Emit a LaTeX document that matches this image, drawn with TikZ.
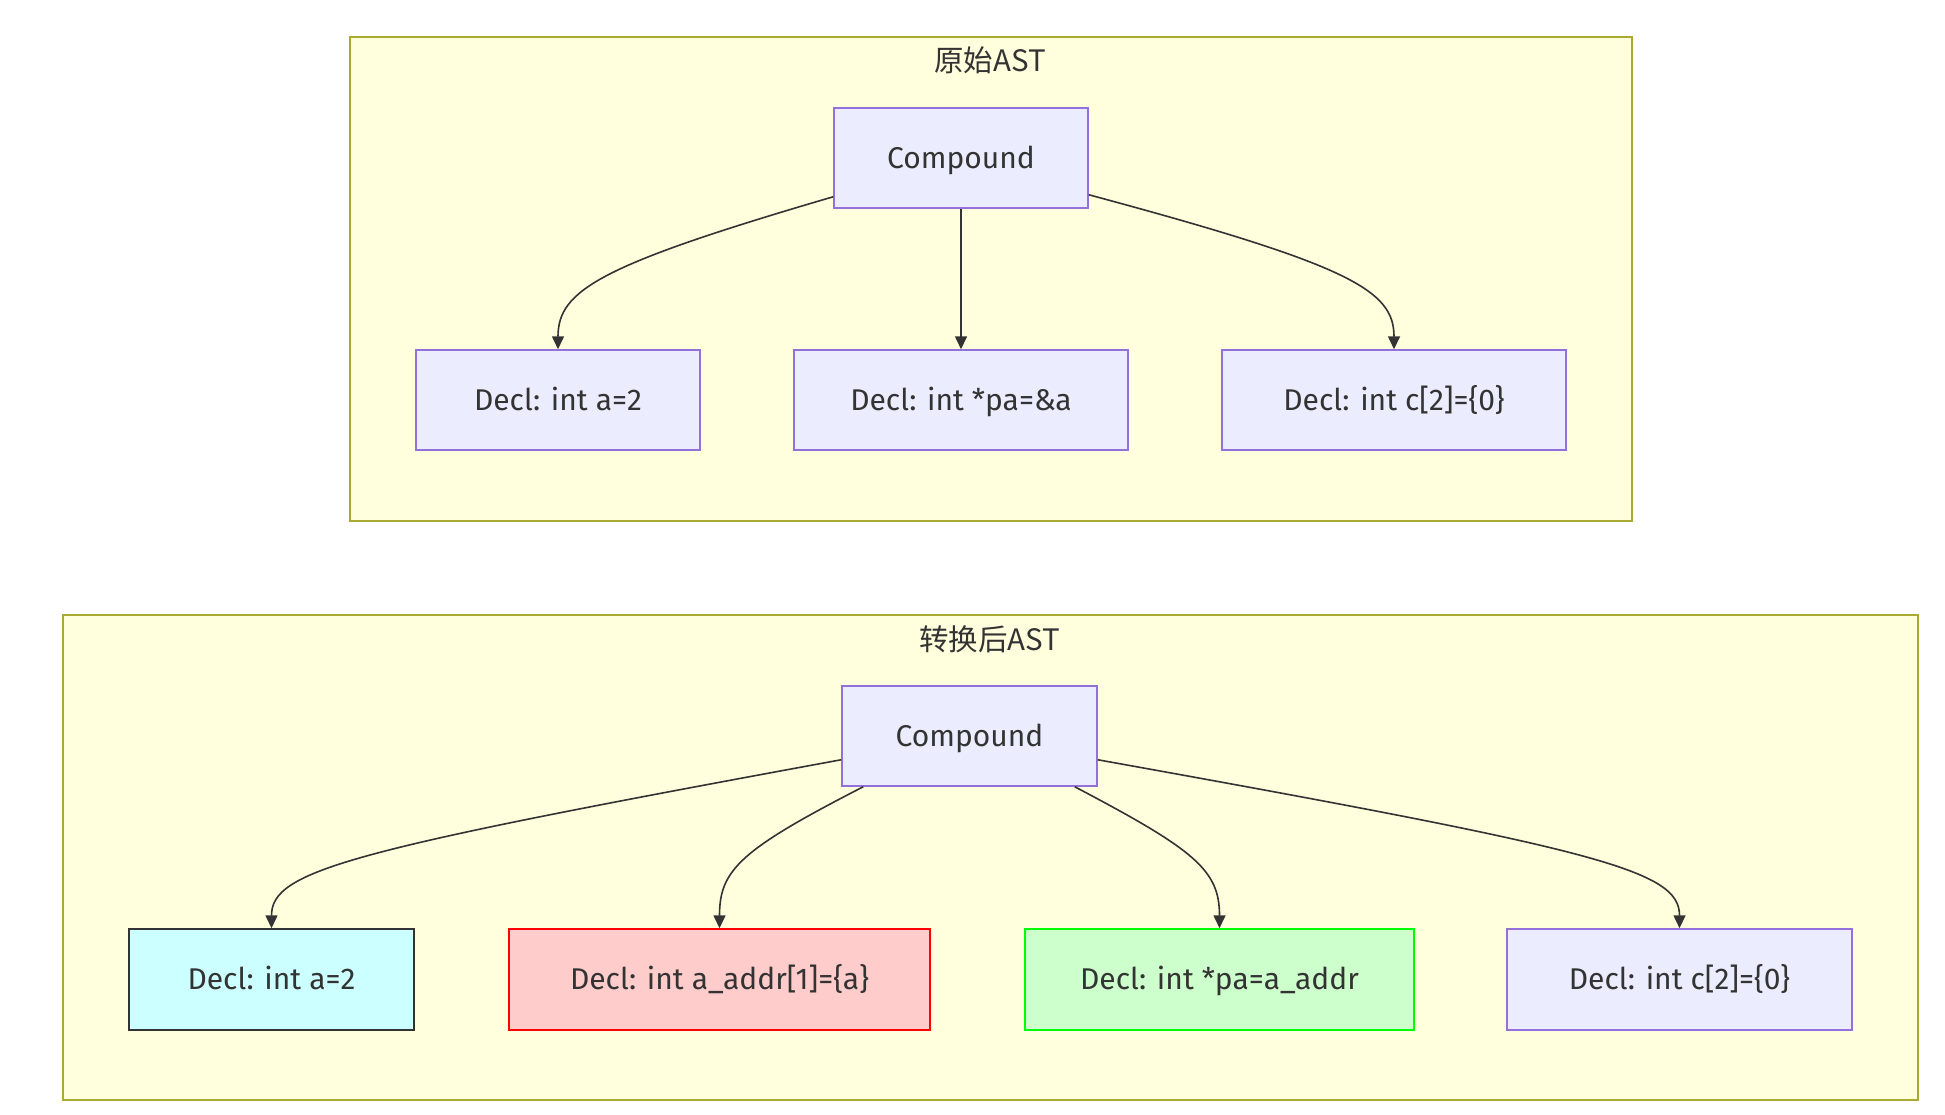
\documentclass[tikz,border=0pt]{standalone}
\usepackage{fontspec}
\setmainfont{Fira Sans}
\newfontfamily\cjk{Noto Sans CJK SC}
\usetikzlibrary{arrows.meta}
\definecolor{clfill}{HTML}{FFFFDE}
\definecolor{clline}{HTML}{AAAA33}
\definecolor{ndfill}{HTML}{ECECFF}
\definecolor{ndline}{HTML}{9370DB}
\definecolor{txt}{HTML}{333333}
\definecolor{cyfill}{HTML}{CCFFFF}
\definecolor{rdfill}{HTML}{FFCCCC}
\definecolor{gnfill}{HTML}{CCFFCC}
\tikzset{
  cluster/.style={draw=clline, fill=clfill, line width=1.5pt},
  ctitle/.style={text=txt, font=\cjk\fontsize{29.5}{35}\selectfont, inner sep=0pt},
  box/.style={draw=ndline, fill=ndfill, line width=1.5pt, text=txt,
    font=\fontsize{30}{36}\selectfont, inner sep=0pt, minimum height=100pt,
    text height=20pt, text depth=0pt},
  cyanbox/.style={box, draw=txt, fill=cyfill},
  redbox/.style={box, draw=red, fill=rdfill},
  greenbox/.style={box, draw=green, fill=gnfill},
  edge/.style={draw=txt, line width=1.6pt, -{Triangle[length=13pt,width=12pt]}}
}
\begin{document}
\begin{tikzpicture}[x=1pt,y=-1pt]
\useasboundingbox (0,0) rectangle (1945,1114);
% clusters
\draw[cluster] (350,37) rectangle (1632,521);
\node[ctitle] (t1) at (990,60) {原始AST};
\draw[cluster] (63,615) rectangle (1918,1100);
\node[ctitle] (t2) at (990,639) {转换后AST};
% top nodes
\node[box, minimum width=254pt] (c1) at (961,158) {Compound};
\node[box, minimum width=284pt] (d1) at (558,400) {Decl: int a=2};
\node[box, minimum width=334pt] (d2) at (961,400) {Decl: int *pa=\&a};
\node[box, minimum width=344pt] (d3) at (1394,400) {Decl: int c[2]=\{0\}};
% bottom nodes
\node[box, minimum width=255pt] (c2) at (969.5,736) {Compound};
\node[cyanbox, minimum width=285pt, minimum height=101pt] (e1) at (271.5,979.5) {Decl: int a=2};
\node[redbox, minimum width=421pt, minimum height=101pt] (e2) at (719.5,979.5) {Decl: int a\_addr[1]=\{a\}};
\node[greenbox, minimum width=389pt, minimum height=101pt] (e3) at (1219.5,979.5) {Decl: int *pa=a\_addr};
\node[box, minimum width=345pt, minimum height=101pt] (e4) at (1679.5,979.5) {Decl: int c[2]=\{0\}};
% top edges
\draw[edge] ([yshift=12pt]c1.south west) .. controls (600,265) and (558,290) .. (d1.north);
\draw[edge] (c1.south) -- (d2.north);
\draw[edge] ([yshift=14pt]c1.south east) .. controls (1350,265) and (1394,290) .. (d3.north);
% bottom edges
\draw[edge] ([yshift=27pt]c2.south west) .. controls (350,850) and (271.5,870) .. (e1.north);
\draw[edge] ([xshift=22pt]c2.south west) .. controls (740,850) and (719.5,870) .. (e2.north);
\draw[edge] ([xshift=-23pt]c2.south east) .. controls (1195,850) and (1219.5,870) .. (e3.north);
\draw[edge] ([yshift=27pt]c2.south east) .. controls (1600,850) and (1679.5,870) .. (e4.north);
\end{tikzpicture}
\end{document}
